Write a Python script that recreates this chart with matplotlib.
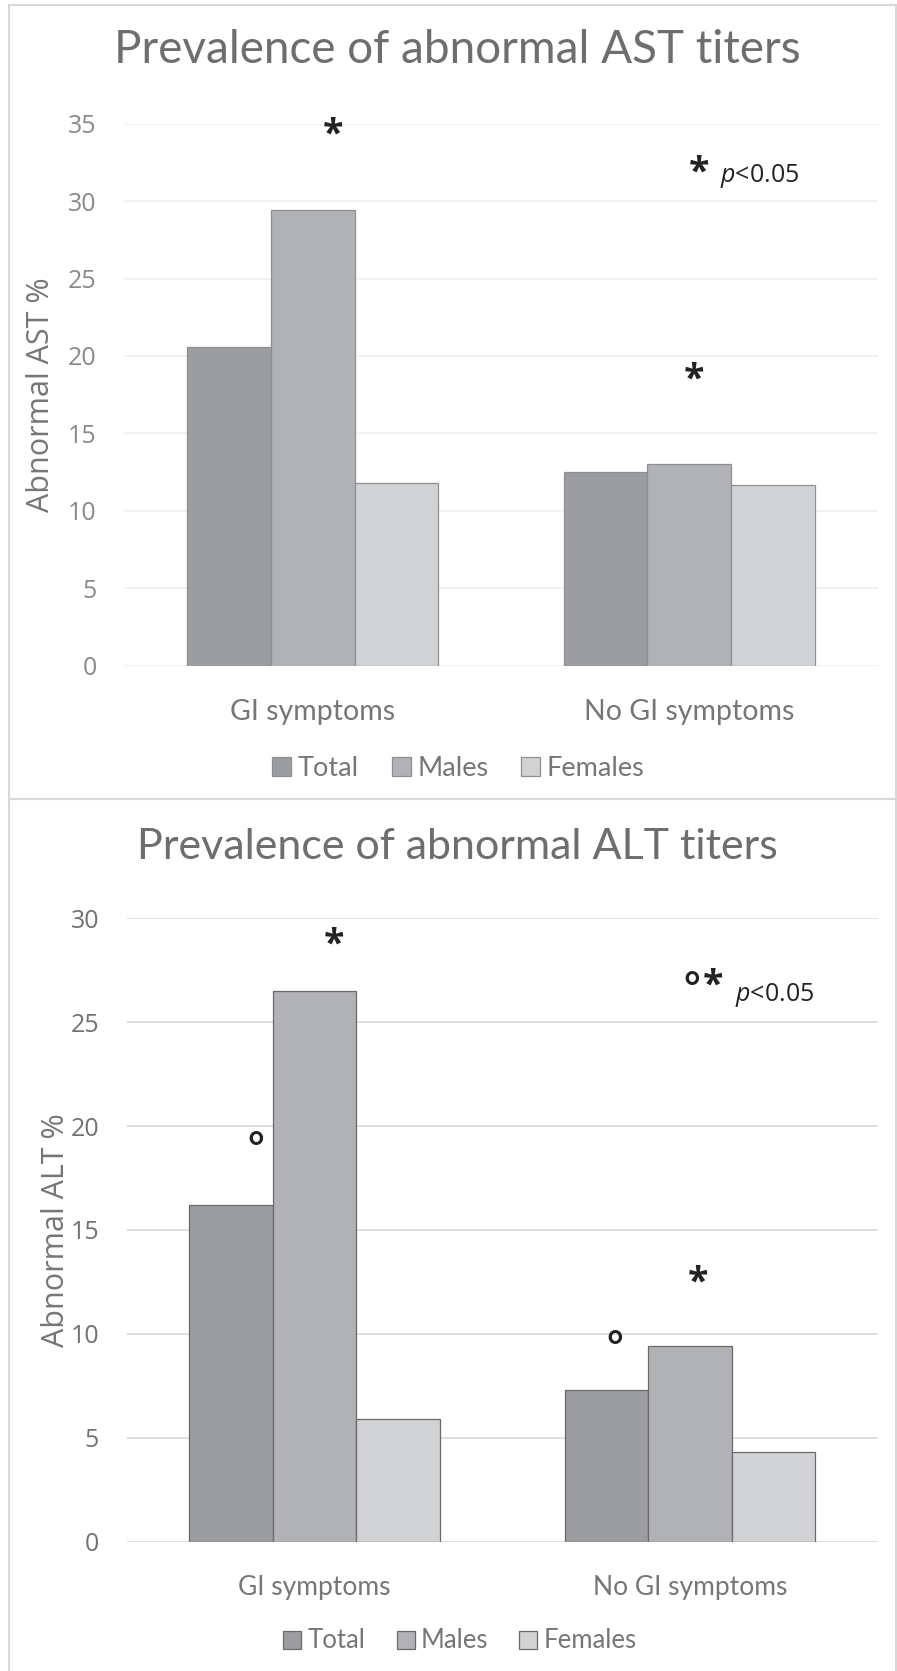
import matplotlib
matplotlib.use("Agg")
import matplotlib.pyplot as plt
from matplotlib.patches import Rectangle
from matplotlib.transforms import ScaledTranslation
import numpy as np

categories = ["GI symptoms", "No GI symptoms"]
series = ["Total", "Males", "Females"]
ast_total = [20.6, 12.5]
ast_males = [29.4, 13.0]
ast_females = [11.8, 11.7]
alt_total = [16.2, 7.3]
alt_males = [26.5, 9.4]
alt_females = [5.9, 4.3]
ast_ticks = [0, 5, 10, 15, 20, 25, 30, 35]
alt_ticks = [0, 5, 10, 15, 20, 25, 30]

colors = ["#9c9da1", "#b1b2b5", "#d1d2d4"]
TXT = "#767676"
CAL = "Lato"
TICKF = "Open Sans"

plt.rcParams['mathtext.fontset'] = 'custom'
plt.rcParams['mathtext.it'] = 'Open Sans:italic'
plt.rcParams['mathtext.rm'] = 'Open Sans'

fig = plt.figure(figsize=(8.97, 16.71), dpi=100)

# frames
fig.patches.append(Rectangle((8.5/897, 1-799/1671), (896-8.5)/897, (799-5.3)/1671,
                             transform=fig.transFigure, fill=False, edgecolor="#d9d9d9", lw=1.5))
fig.patches.append(Rectangle((8.5/897, -0.01), (896-8.5)/897, (1-799/1671)+0.01,
                             transform=fig.transFigure, fill=False, edgecolor="#d9d9d9", lw=1.5))

def draw(ax, vals, ymax, ticks, title, tsize, ylabel, edge, gridc, title_y, label_x,
         leg_xy, catsize, legsize, tickcol):
    x = np.arange(len(categories))
    w = 1/4.5
    for i, (v, c, s) in enumerate(zip(vals, colors, series)):
        ax.bar(x + (i-1)*w, v, width=w, color=c, edgecolor=edge, linewidth=0.9, label=s, zorder=3)
    ax.set_xlim(-0.5, 1.5)
    ax.set_ylim(0, ymax)
    ax.set_yticks(ticks)
    ax.set_yticklabels([str(t) for t in ticks], fontsize=18, color=tickcol, family=TICKF)
    off = ScaledTranslation(0, -5/100, fig.dpi_scale_trans)
    for lab in ax.get_yticklabels():
        lab.set_transform(lab.get_transform() + off)
    ax.set_xticks(x)
    ax.set_xticklabels(categories, fontsize=catsize, color=TXT, family=CAL)
    ax.tick_params(axis='y', length=0, pad=20)
    ax.tick_params(axis='x', length=0, pad=24)
    for sp in ax.spines.values():
        sp.set_visible(False)
    ax.grid(axis='y', color=gridc, lw=1.2, zorder=0)
    ax.set_axisbelow(True)
    ax.set_ylabel(ylabel, fontsize=22, color=TXT, family=TICKF)
    ax.yaxis.label.set_verticalalignment('center')
    ax.yaxis.set_label_coords(label_x, 0.5)
    fig.text(0.51, title_y, title, ha='center', va='center', fontsize=tsize, color="#6e6e6e", family=CAL)
    ax.legend(loc='center', bbox_to_anchor=leg_xy, bbox_transform=fig.transFigure, ncol=3,
              frameon=False, handlelength=0.7, handleheight=0.7, handletextpad=0.25,
              columnspacing=1.2, prop={'family': CAL, 'size': legsize}, labelcolor=TXT)

ax1 = fig.add_axes([124.4/897, 1-665.8/1671, (877.5-124.4)/897, (665.8-123.6)/1671])
draw(ax1, [ast_total, ast_males, ast_females], 35, ast_ticks,
     "Prevalence of abnormal AST titers", 33, "Abnormal AST %", "#8e8f92", "#efefef",
     1-50/1671, -0.111, (0.511, 1-768/1671), 20.5, 19.5, "#8a8a8a")

ax2 = fig.add_axes([126.8/897, 1-1541.5/1671, (877.8-126.8)/897, (1541.5-918.3)/1671])
draw(ax2, [alt_total, alt_males, alt_females], 30, alt_ticks,
     "Prevalence of abnormal ALT titers", 31, "Abnormal ALT %", "#6a6a6a", "#d9d9d9",
     1-847/1671, -0.094, (0.513, 1-1641/1671), 19, 18.5, "#727272")

star = dict(ha='center', va='center', fontsize=27, color='#222222', family=TICKF,
            fontweight='bold', zorder=5)
circ = dict(ha='center', va='center', fontsize=30, color='#222222', family='DejaVu Sans',
            fontweight='bold', zorder=5)
pt = dict(ha='left', va='center', fontsize=18, color='#222222', family=TICKF, zorder=5)

ax1.text(0.055, 34.2, "*", **star)
ax1.text(1.013, 18.4, "*", **star)
ax1.text(1.027, 31.8, "*", **star)
ax1.text(1.082, 31.6, "$p$<0.05", **pt)

ax2.text(0.052, 28.7, "*", **star)
ax2.text(1.02, 12.4, "*", **star)
ax2.text(-0.157, 18.8, "°", **circ)
ax2.text(0.80, 9.2, "°", **circ)
ax2.text(1.005, 26.5, "°", **circ)
ax2.text(1.062, 26.7, "*", **star)
ax2.text(1.119, 26.3, "$p$<0.05", **pt)

fig.savefig("out.png", dpi=100)
